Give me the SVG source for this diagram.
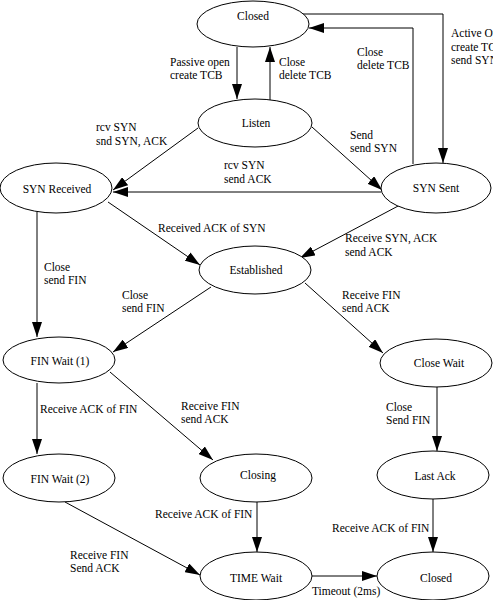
<svg xmlns="http://www.w3.org/2000/svg" width="493" height="600" viewBox="0 0 493 600">
<defs>
<style>
.n ellipse{fill:#fff;stroke:#000;stroke-width:1}
text{font-family:"Liberation Serif","Times New Roman",serif;font-size:11.5px;fill:#000}
.n text{text-anchor:middle}
.e path{fill:none;stroke:#000;stroke-width:1;marker-end:url(#ah)}
</style>
<marker id="ah" markerUnits="userSpaceOnUse" markerWidth="15" markerHeight="10" refX="15" refY="5" orient="auto">
<path d="M0,0 L15,5 L0,10 Z" fill="#000"/>
</marker>
</defs>
<rect width="493" height="600" fill="#fff"/>
<g class="e" id="connectors">
<path d="M237,47 L237,99"/>
<path d="M270,100 L270,47"/>
<path d="M303,14 L443,14 L443,163"/>
<path d="M413,164 L413,28 L309,28"/>
<path d="M312,127 L382,190"/>
<path d="M198,128 L113,190"/>
<path d="M381,192 L113,192"/>
<path d="M108,202 L200,265"/>
<path d="M400,205 L300,258"/>
<path d="M37,212 L37,337"/>
<path d="M211,287 L113,352"/>
<path d="M305,283 L383,353"/>
<path d="M37,383 L37,454"/>
<path d="M110,372 L213,460"/>
<path d="M437,387 L437,451"/>
<path d="M65,502 L200,575"/>
<path d="M257,502 L257,552"/>
<path d="M433,492 L433,552"/>
<path d="M312,576 L377,576"/>
</g>
<g id="labels">
<text x="170" y="66">Passive open</text><text x="170" y="79">create TCB</text>
<text x="279" y="66">Close</text><text x="279" y="79">delete TCB</text>
<text x="357" y="56">Close</text><text x="357" y="69">delete TCB</text>
<text x="451" y="37">Active Open</text><text x="451" y="51">create TCB</text><text x="451" y="64">send SYN</text>
<text x="350" y="139">Send</text><text x="350" y="152">send SYN</text>
<text x="96" y="131">rcv SYN</text><text x="96" y="145">snd SYN, ACK</text>
<text x="224" y="169">rcv SYN</text><text x="224" y="183">send ACK</text>
<text x="158" y="232">Received ACK of SYN</text>
<text x="345" y="242">Receive SYN, ACK</text><text x="345" y="256">send ACK</text>
<text x="44" y="271">Close</text><text x="44" y="284">send FIN</text>
<text x="122" y="299">Close</text><text x="122" y="312">send FIN</text>
<text x="342" y="299">Receive FIN</text><text x="342" y="312">send ACK</text>
<text x="40" y="413">Receive ACK of FIN</text>
<text x="181" y="410">Receive FIN</text><text x="181" y="423">send ACK</text>
<text x="386" y="411">Close</text><text x="386" y="424">Send FIN</text>
<text x="155" y="518">Receive ACK of FIN</text>
<text x="332" y="532">Receive ACK of FIN</text>
<text x="70" y="559">Receive FIN</text><text x="70" y="572">Send ACK</text>
<text x="312" y="595">Timeout (2ms)</text>
</g>
<g class="n" id="closed-top"><ellipse cx="253" cy="24" rx="56" ry="23"/><text x="253" y="20">Closed</text></g>
<g class="n" id="listen"><ellipse cx="255" cy="123" rx="57" ry="24"/><text x="256" y="127">Listen</text></g>
<g class="n" id="syn-received"><ellipse cx="56" cy="188" rx="56" ry="25"/><text x="57" y="193">SYN Received</text></g>
<g class="n" id="syn-sent"><ellipse cx="436" cy="188" rx="55" ry="25"/><text x="436" y="192">SYN Sent</text></g>
<g class="n" id="established"><ellipse cx="255" cy="270" rx="56" ry="24"/><text x="256" y="274">Established</text></g>
<g class="n" id="fin-wait-1"><ellipse cx="59" cy="360" rx="56" ry="23"/><text x="60" y="365">FIN Wait (1)</text></g>
<g class="n" id="close-wait"><ellipse cx="436" cy="363" rx="56" ry="24"/><text x="439" y="367">Close Wait</text></g>
<g class="n" id="fin-wait-2"><ellipse cx="59" cy="478" rx="56" ry="24"/><text x="60" y="483">FIN Wait (2)</text></g>
<g class="n" id="closing"><ellipse cx="256" cy="478" rx="56" ry="24"/><text x="258" y="479">Closing</text></g>
<g class="n" id="last-ack"><ellipse cx="433" cy="475" rx="56" ry="24"/><text x="435" y="480">Last Ack</text></g>
<g class="n" id="time-wait"><ellipse cx="256" cy="576" rx="56" ry="24"/><text x="256" y="582">TIME Wait</text></g>
<g class="n" id="closed-bottom"><ellipse cx="433" cy="576" rx="56" ry="24"/><text x="436" y="582">Closed</text></g>
</svg>
